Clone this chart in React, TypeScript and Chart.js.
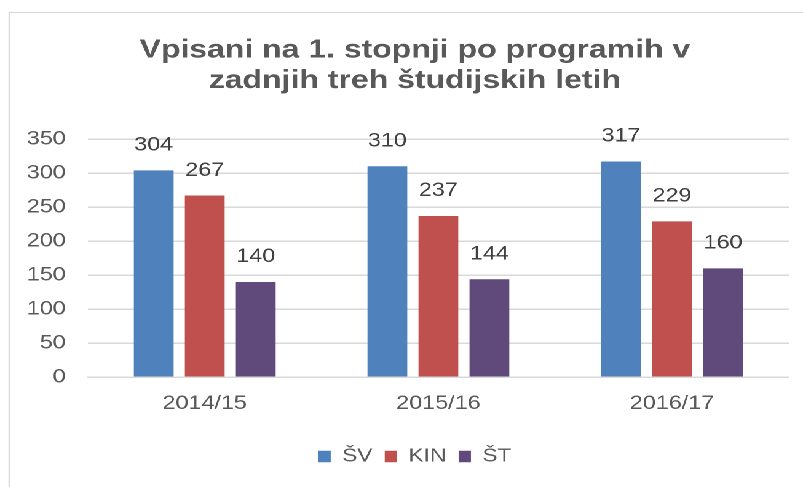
import React, { useEffect, useRef } from "react";
import { Chart, registerables } from "chart.js";

Chart.register(...registerables);

const categories = ["2014/15", "2015/16", "2016/17"];
const seriesNames = ["ŠV", "KIN", "ŠT"];
const svValues = [304, 310, 317];
const kinValues = [267, 237, 229];
const stValues = [140, 144, 160];
const seriesColors = ["#4F81BD", "#C0504D", "#604A7B"];
const titleLines = ["Vpisani na 1. stopnji po programih v", "zadnjih treh študijskih letih"];
const yMax = 350;
const yStep = 50;

const FONT = "'Liberation Sans', Arial, sans-serif";
const INNER_W = 653;
const H = 487;
const STRETCH = 803 / INNER_W;
const TITLE_CENTER_X = 337.4;
const TITLE_SIZE = 26;

const framePlugin = {
  id: "frame",
  beforeDraw(chart: any) {
    const ctx = chart.ctx;
    ctx.save();
    ctx.strokeStyle = "#d9d9d9";
    ctx.lineWidth = 1.2;
    ctx.strokeRect(7.5, 12.5, 10000, 10000);
    ctx.restore();
  },
};

const titlePlugin = {
  id: "customTitle",
  afterDraw(chart: any) {
    const ctx = chart.ctx;
    ctx.save();
    ctx.font = `bold ${TITLE_SIZE}px ${FONT}`;
    ctx.fillStyle = "#595959";
    ctx.textAlign = "center";
    ctx.textBaseline = "middle";
    const lh = 30.7;
    titleLines.forEach((line, i) => {
      ctx.fillText(line, TITLE_CENTER_X, 35 + lh / 2 + i * lh);
    });
    ctx.restore();
  },
};

const dataLabelPlugin = {
  id: "dataLabels",
  afterDatasetsDraw(chart: any) {
    const ctx = chart.ctx;
    ctx.save();
    ctx.font = `19px ${FONT}`;
    ctx.fillStyle = "#404040";
    ctx.textAlign = "center";
    ctx.textBaseline = "middle";
    chart.data.datasets.forEach((ds: any, i: number) => {
      const meta = chart.getDatasetMeta(i);
      meta.data.forEach((el: any, j: number) => {
        ctx.fillText(String(ds.data[j]), el.x, el.y - 25);
      });
    });
    ctx.restore();
  },
};

export default function App() {
  const ref = useRef<HTMLCanvasElement | null>(null);
  useEffect(() => {
    if (!ref.current) return;
    const values = [svValues, kinValues, stValues];
    const chart = new Chart(ref.current, {
      type: "bar",
      data: {
        labels: categories,
        datasets: seriesNames.map((name, i) => ({
          label: name,
          data: values[i],
          backgroundColor: seriesColors[i],
          borderWidth: 0,
          categoryPercentage: 0.655,
          barPercentage: 0.78,
        })),
      },
      options: {
        animation: false,
        responsive: false,
        devicePixelRatio: 2,
        layout: { padding: { left: 33.3, right: 11.5, top: 0, bottom: 11.25 } },
        plugins: {
          title: {
            display: true,
            text: titleLines,
            color: "rgba(0,0,0,0)",
            font: { family: FONT, size: 25.6, weight: "bold", lineHeight: 1.2 },
            padding: { top: 35, bottom: 42.6 },
          },
          legend: {
            position: "bottom",
            labels: {
              color: "#595959",
              font: { family: FONT, size: 18.5 },
              boxWidth: 10,
              boxHeight: 11.5,
              padding: 10,
            },
          },
          tooltip: { enabled: false },
        },
        scales: {
          x: {
            grid: { display: false, drawTicks: false },
            border: { display: true, color: "#d9d9d9", width: 1.5 },
            ticks: { color: "#595959", font: { family: FONT, size: 19 }, padding: 15 },
            afterFit(scale: any) {
              scale.height = 60;
            },
          },
          y: {
            min: 0,
            max: yMax,
            grid: { color: "#d9d9d9", lineWidth: 1.5, drawTicks: false },
            border: { display: false },
            ticks: {
              stepSize: yStep,
              color: "#595959",
              font: { family: FONT, size: 19 },
              padding: 18,
            },
            afterFit(scale: any) {
              scale.width = 38.2;
              scale._computeLabelArea = () => undefined;
            },
          },
        },
      },
      plugins: [framePlugin, titlePlugin, dataLabelPlugin],
    });
    return () => chart.destroy();
  }, []);
  return (
    <div
      style={{
        position: "absolute",
        left: 0,
        top: 0,
        width: INNER_W,
        height: H,
        transform: `scaleX(${STRETCH})`,
        transformOrigin: "0 0",
        background: "#fff",
      }}
    >
      <canvas ref={ref} width={INNER_W} height={H} style={{ width: INNER_W, height: H }} />
    </div>
  );
}
